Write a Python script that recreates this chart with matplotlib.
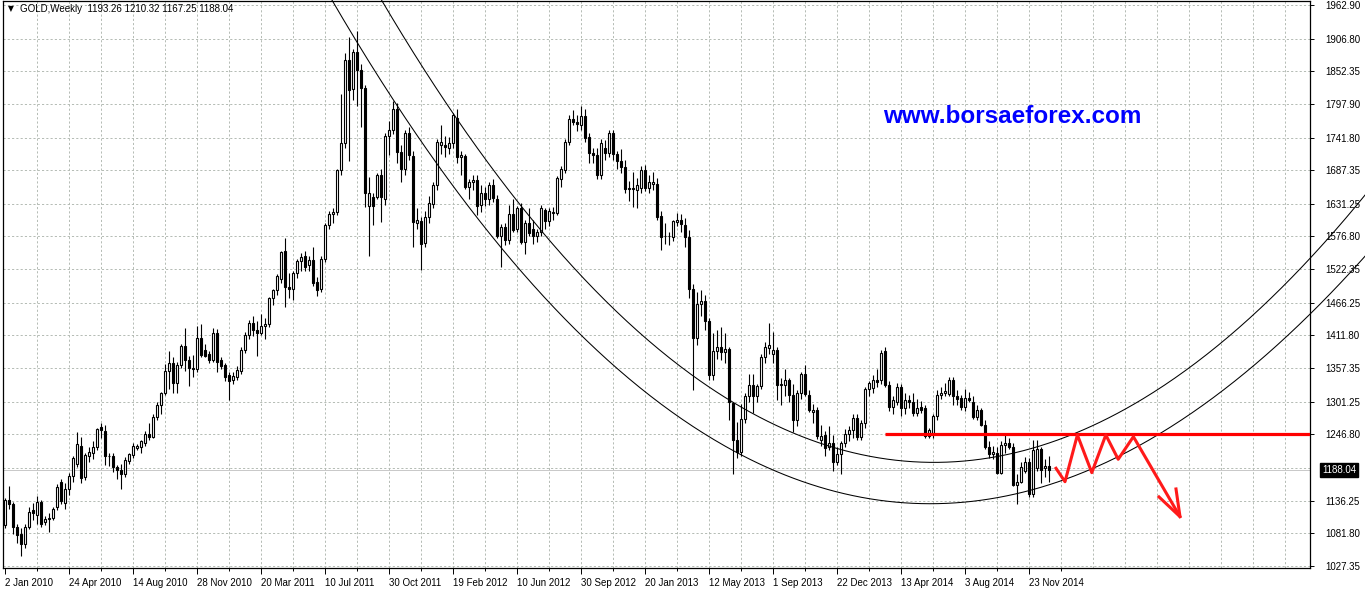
import numpy as np
import matplotlib.pyplot as plt
import matplotlib.transforms as mtransforms

plt.rcParams['font.family'] = ['Liberation Sans', 'DejaVu Sans']

# GOLD weekly OHLC (bar 0 = 2 Jan 2010)
opens = [
    1096, 1138, 1131, 1093, 1080, 1064, 1092, 1121, 1113, 1134,
    1100, 1106, 1107, 1125, 1167, 1133, 1155, 1177, 1198, 1228,
    1176, 1211, 1216, 1225, 1259, 1253, 1210, 1211, 1192, 1188,
    1180, 1202, 1213, 1224, 1225, 1232, 1247, 1242, 1276, 1296,
    1315, 1353, 1365, 1332, 1362, 1394, 1370, 1358, 1355, 1408,
    1388, 1381, 1371, 1415, 1370, 1362, 1346, 1338, 1343, 1353,
    1388, 1412, 1433, 1421, 1416, 1428, 1430, 1474, 1488, 1506,
    1553, 1493, 1490, 1516, 1536, 1544, 1529, 1538, 1501, 1489,
    1540, 1596, 1614, 1617, 1688, 1732, 1871, 1822, 1885, 1855,
    1824, 1627, 1643, 1643, 1680, 1640, 1745, 1755, 1790, 1718,
    1690, 1750, 1711, 1600, 1603, 1566, 1610, 1631, 1663, 1729,
    1730, 1724, 1732, 1774, 1710, 1711, 1660, 1667, 1671, 1630,
    1650, 1640, 1663, 1640, 1577, 1593, 1571, 1615, 1590, 1625,
    1568, 1599, 1589, 1577, 1584, 1621, 1603, 1616, 1616, 1672,
    1688, 1735, 1772, 1768, 1763, 1778, 1743, 1716, 1713, 1679,
    1724, 1716, 1750, 1715, 1702, 1693, 1656, 1657, 1655, 1657,
    1688, 1657, 1665, 1665, 1611, 1577, 1578, 1576, 1601, 1605,
    1596, 1576, 1489, 1407, 1464, 1470, 1436, 1346, 1385, 1392,
    1384, 1389, 1299, 1237, 1218, 1272, 1311, 1329, 1310, 1327,
    1376, 1391, 1380, 1388, 1329, 1329, 1338, 1312, 1270, 1315,
    1348, 1312, 1284, 1287, 1237, 1245, 1225, 1233, 1201, 1214,
    1232, 1247, 1254, 1274, 1242, 1265, 1322, 1324, 1337, 1337,
    1386, 1329, 1293, 1301, 1325, 1290, 1304, 1301, 1282, 1292,
    1290, 1244, 1249, 1277, 1312, 1315, 1314, 1337, 1310, 1307,
    1293, 1307, 1301, 1276, 1287, 1262, 1226, 1214, 1216, 1183,
    1229, 1233, 1226, 1162, 1168, 1185, 1201, 1148, 1190, 1222,
    1190, 1193.26,
]
highs = [
    1140, 1161, 1134, 1098, 1090, 1097, 1126, 1133, 1144, 1138,
    1110, 1116, 1126, 1164, 1172, 1166, 1182, 1210, 1250, 1242,
    1216, 1225, 1235, 1258, 1265, 1262, 1215, 1216, 1196, 1197,
    1209, 1216, 1232, 1230, 1238, 1252, 1265, 1280, 1300, 1317,
    1364, 1385, 1376, 1368, 1397, 1424, 1378, 1379, 1428, 1430,
    1398, 1385, 1424, 1423, 1375, 1366, 1350, 1350, 1360, 1392,
    1418, 1437, 1445, 1436, 1447, 1440, 1476, 1490, 1514, 1552,
    1574, 1516, 1520, 1540, 1550, 1552, 1545, 1560, 1510, 1545,
    1600, 1620, 1624, 1690, 1815, 1882, 1910, 1890, 1920, 1865,
    1830, 1676, 1650, 1682, 1690, 1750, 1770, 1803, 1800, 1730,
    1755, 1760, 1720, 1625, 1610, 1620, 1645, 1668, 1740, 1762,
    1745, 1742, 1782, 1789, 1720, 1715, 1672, 1680, 1680, 1662,
    1660, 1668, 1672, 1646, 1598, 1600, 1630, 1640, 1628, 1632,
    1605, 1625, 1605, 1590, 1630, 1625, 1625, 1626, 1677, 1695,
    1740, 1780, 1787, 1780, 1795, 1790, 1750, 1725, 1725, 1740,
    1737, 1755, 1755, 1720, 1722, 1705, 1670, 1684, 1675, 1694,
    1696, 1680, 1685, 1675, 1620, 1600, 1585, 1605, 1616, 1615,
    1608, 1587, 1497, 1485, 1488, 1480, 1440, 1415, 1420, 1425,
    1415, 1392, 1300, 1267, 1297, 1315, 1348, 1347, 1330, 1380,
    1400, 1433, 1418, 1392, 1340, 1355, 1340, 1330, 1320, 1350,
    1362, 1320, 1297, 1293, 1262, 1252, 1260, 1245, 1225, 1235,
    1255, 1260, 1280, 1280, 1270, 1325, 1335, 1345, 1355, 1388,
    1392, 1335, 1310, 1332, 1331, 1315, 1312, 1315, 1305, 1302,
    1295, 1258, 1280, 1320, 1325, 1332, 1343, 1342, 1320, 1312,
    1322, 1318, 1310, 1296, 1290, 1270, 1236, 1228, 1225, 1235,
    1249, 1240, 1232, 1180, 1200, 1209, 1207, 1237, 1238, 1225,
    1206, 1210.32,
]
lows = [
    1090, 1123, 1080, 1066, 1044, 1058, 1089, 1104, 1098, 1092,
    1095, 1084, 1104, 1120, 1130, 1123, 1145, 1168, 1192, 1166,
    1170, 1200, 1205, 1220, 1240, 1196, 1194, 1184, 1173, 1155,
    1175, 1198, 1208, 1220, 1215, 1228, 1238, 1240, 1271, 1281,
    1312, 1322, 1316, 1316, 1358, 1353, 1328, 1343, 1350, 1376,
    1376, 1365, 1368, 1351, 1355, 1335, 1304, 1330, 1338, 1348,
    1383, 1405, 1410, 1378, 1412, 1405, 1425, 1462, 1480, 1500,
    1460, 1475, 1471, 1508, 1520, 1520, 1520, 1495, 1478, 1485,
    1535, 1590, 1600, 1612, 1680, 1725, 1702, 1805, 1795, 1760,
    1626, 1545, 1596, 1640, 1601, 1630, 1713, 1748, 1700, 1667,
    1680, 1705, 1560, 1590, 1521, 1560, 1600, 1625, 1655, 1715,
    1710, 1715, 1725, 1700, 1680, 1656, 1640, 1655, 1612, 1618,
    1628, 1630, 1635, 1575, 1526, 1563, 1565, 1585, 1585, 1565,
    1548, 1578, 1565, 1568, 1577, 1590, 1595, 1605, 1612, 1660,
    1682, 1730, 1762, 1752, 1755, 1735, 1700, 1700, 1672, 1672,
    1705, 1710, 1705, 1690, 1682, 1650, 1636, 1626, 1625, 1650,
    1652, 1650, 1655, 1605, 1554, 1565, 1562, 1570, 1595, 1585,
    1560, 1475, 1321, 1395, 1445, 1420, 1338, 1337, 1372, 1370,
    1365, 1270, 1180, 1208, 1210, 1265, 1300, 1283, 1300, 1322,
    1366, 1380, 1365, 1304, 1295, 1310, 1300, 1250, 1260, 1305,
    1310, 1284, 1266, 1239, 1227, 1210, 1220, 1186, 1195, 1181,
    1225, 1235, 1240, 1238, 1238, 1258, 1310, 1315, 1325, 1330,
    1325, 1286, 1280, 1295, 1277, 1280, 1290, 1277, 1278, 1282,
    1240, 1240, 1240, 1270, 1305, 1310, 1310, 1295, 1295, 1287,
    1285, 1300, 1272, 1270, 1260, 1222, 1208, 1205, 1180, 1180,
    1215, 1222, 1160, 1131, 1165, 1182, 1142, 1142, 1185, 1165,
    1176, 1167.25,
]
closes = [
    1138, 1131, 1093, 1079, 1064, 1093, 1117, 1115, 1134, 1098,
    1105, 1107, 1122, 1159, 1135, 1155, 1177, 1207, 1230, 1174,
    1212, 1218, 1226, 1255, 1254, 1210, 1211, 1192, 1188, 1180,
    1204, 1214, 1227, 1227, 1235, 1247, 1242, 1276, 1296, 1315,
    1353, 1365, 1332, 1362, 1394, 1370, 1357, 1355, 1408, 1379,
    1378, 1371, 1415, 1368, 1361, 1343, 1335, 1344, 1354, 1388,
    1412, 1433, 1421, 1416, 1428, 1430, 1474, 1488, 1511, 1551,
    1493, 1490, 1516, 1536, 1543, 1526, 1538, 1500, 1488, 1540,
    1596, 1614, 1617, 1688, 1732, 1871, 1821, 1885, 1855, 1824,
    1649, 1649, 1627, 1679, 1643, 1745, 1755, 1790, 1718, 1690,
    1750, 1712, 1601, 1605, 1564, 1610, 1632, 1663, 1735, 1735,
    1726, 1732, 1779, 1710, 1712, 1660, 1667, 1671, 1628, 1650,
    1640, 1663, 1641, 1577, 1593, 1571, 1615, 1588, 1625, 1568,
    1599, 1583, 1577, 1584, 1624, 1603, 1620, 1618, 1674, 1689,
    1735, 1772, 1768, 1765, 1778, 1741, 1716, 1712, 1679, 1732,
    1716, 1750, 1715, 1702, 1693, 1656, 1657, 1656, 1662, 1688,
    1657, 1667, 1667, 1610, 1576, 1578, 1577, 1603, 1605, 1598,
    1576, 1489, 1407, 1464, 1470, 1436, 1346, 1385, 1392, 1384,
    1389, 1300, 1237, 1218, 1272, 1311, 1329, 1310, 1327, 1376,
    1393, 1396, 1388, 1329, 1330, 1337, 1312, 1270, 1315, 1348,
    1314, 1287, 1287, 1244, 1244, 1224, 1233, 1201, 1214, 1232,
    1247, 1254, 1274, 1242, 1266, 1322, 1332, 1337, 1334, 1383,
    1329, 1293, 1304, 1326, 1290, 1304, 1300, 1282, 1290, 1288,
    1244, 1254, 1277, 1312, 1316, 1319, 1337, 1310, 1305, 1293,
    1307, 1304, 1276, 1288, 1262, 1226, 1214, 1218, 1183, 1229,
    1232, 1226, 1162, 1168, 1193, 1201, 1148, 1221, 1222, 1188,
    1194, 1188.04,
]

date_labels = ['2 Jan 2010', '24 Apr 2010', '14 Aug 2010', '28 Nov 2010',
               '20 Mar 2011', '10 Jul 2011', '30 Oct 2011', '19 Feb 2012',
               '10 Jun 2012', '30 Sep 2012', '20 Jan 2013', '12 May 2013',
               '1 Sep 2013', '22 Dec 2013', '13 Apr 2014', '3 Aug 2014',
               '23 Nov 2014']
price_ticks = [1962.90, 1906.80, 1852.35, 1797.90, 1741.80, 1687.35, 1631.25,
               1576.80, 1522.35, 1466.25, 1411.80, 1357.35, 1301.25, 1246.80,
               1136.25, 1081.80, 1027.35]
hidden_grid = 1191.35
last_price = 1188.04
header = 'GOLD,Weekly  1193.26 1210.32 1167.25 1188.04'

# hand-drawn arcs on the chart: anchor points (bar, price)
upper_arc_x = [93.75, 113.75, 142.5, 158.75, 193.75, 210.5, 223.75, 238.75, 267, 285, 326.25, 340]
upper_arc_y = [1971.2, 1771.1, 1520.9, 1415.9, 1259.1, 1224.1, 1202.4, 1195.7, 1242.4, 1304.1, 1570.0, 1625.0]
lower_arc_x = [81.25, 113.75, 158.75, 197, 238.75, 272, 301.25, 326.25, 340]
lower_arc_y = [1971.2, 1654.3, 1325.8, 1170.7, 1127.3, 1187.4, 1304.1, 1476.0, 1522.0]

# red annotation
resist_level = 1246.80
resist_from = 220
zigzag_x = [262.75, 265, 268.1, 271.7, 275.2, 278.3, 282.1, 293.75]
zigzag_y = [1190.2, 1167.8, 1245.8, 1182.9, 1245.8, 1205.2, 1242.9, 1109.5]
head_x = [288.5, 293.75, 292.75]
head_y = [1142.4, 1109.5, 1155.7]

W, H = 1365, 589
fig = plt.figure(figsize=(W / 100, H / 100), dpi=100)
fig.patch.set_facecolor('white')
ax = fig.add_axes([3 / W, 21 / H, 1307 / W, 567 / H])
ax.set_xlim(-0.5, 326.25)
ax.set_ylim(1023.9, 1969.5)

grid_kw = dict(color='#b4bbb4', lw=0.7, ls=(0, (2.2, 2.2)), zorder=0)
for p in price_ticks + [hidden_grid]:
    ax.axhline(p, **grid_kw)
for b in range(8, 330, 8):
    ax.axvline(b, **grid_kw)
ax.axhline(last_price, color='#c8c8c8', lw=0.7, zorder=0)

o = np.array(opens)
h = np.array(highs)
l = np.array(lows)
c = np.array(closes)
xs = np.arange(len(c))
up = c >= o
ax.vlines(xs, l, h, color='black', lw=0.8, zorder=2)
body_lo = np.minimum(o, c)
body_h = np.maximum(np.abs(c - o), 0.4)
ax.bar(xs, body_h, bottom=body_lo, width=0.55,
       color=np.where(up, 'white', 'black'), edgecolor='black',
       linewidth=0.8, zorder=3)

# arcs
bx = np.linspace(75, 341, 500)
for px, py in [(upper_arc_x, upper_arc_y), (lower_arc_x, lower_arc_y)]:
    coef = np.polyfit(px, py, 3)
    ax.plot(bx, np.polyval(coef, bx), color='black', lw=0.75, zorder=4,
            clip_on=False)

# red support/resistance and projected path
ax.plot([resist_from, 326.25], [resist_level, resist_level], color='#ff0000',
        lw=2.3, zorder=5, solid_capstyle='butt')
ax.plot(zigzag_x, zigzag_y, color='#ff1a1a', lw=2.2, zorder=5)
ax.plot(head_x, head_y, color='#ff1a1a', lw=2.2, zorder=5)

ax.text(251.75, 1777, 'www.borsaeforex.com', color='#0000ff', fontsize=17.5,
        fontweight='bold', ha='center', va='center', zorder=6)

# header
fig.text(8 / W, 1 - 9 / H, '\u25bc', fontsize=5.5, family='DejaVu Sans',
         va='center', ha='left', color='black')
fig.text(20 / W, 1 - 9 / H, header, fontsize=7, va='center', ha='left',
         color='black')

# axes styling
for s in ax.spines.values():
    s.set_color('black')
    s.set_linewidth(0.9)
ax.yaxis.tick_right()
ax.set_yticks(price_ticks)
ax.set_yticklabels(['%.2f' % p for p in price_ticks])
ax.tick_params(axis='y', length=3, width=0.7, pad=8, labelsize=7)
ax.set_xticks(np.arange(len(date_labels)) * 16)
ax.set_xticklabels(date_labels, ha='left')
ax.set_xticks(np.arange(len(date_labels)) * 16 + 8, minor=True)
ax.tick_params(axis='x', which='major', length=4, width=0.7, pad=3, labelsize=7)
ax.tick_params(axis='x', which='minor', length=2, width=0.7)

trans = mtransforms.blended_transform_factory(ax.transAxes, ax.transData)
ax.text(1 + 12 / 1307, last_price, '%.2f' % last_price, transform=trans,
        color='white', fontsize=7, va='center', ha='left',
        bbox=dict(boxstyle='square,pad=0.2', fc='black', ec='black'))

fig.savefig('out.png', dpi=100, facecolor='white')
